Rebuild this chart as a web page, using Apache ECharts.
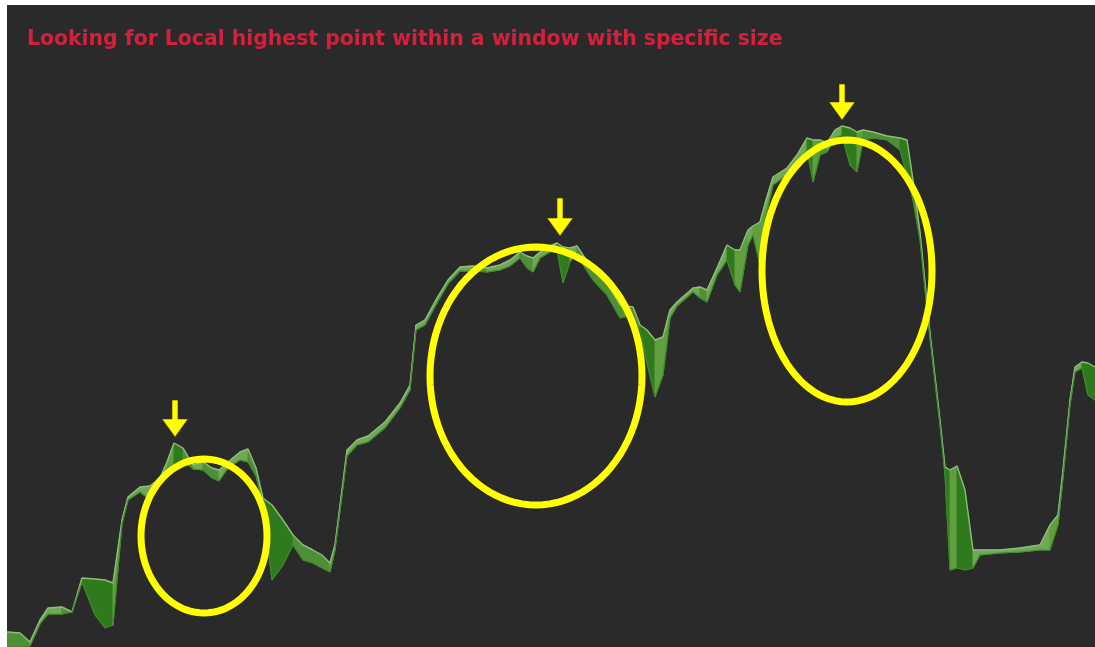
<!DOCTYPE html>
<html>
<head>
<meta charset="utf-8">
<script src="https://cdn.jsdelivr.net/npm/echarts@6/dist/echarts.min.js"></script>
<style>
html,body{margin:0;padding:0;background:#ffffff;}
#chart{width:1095px;height:647px;}
</style>
</head>
<body>
<div id="chart"></div>
<script>
// time steps (x) and the two edges of the price ribbon (y)
var steps = [0,13,23,33,41,55,65,75,88,98,106,115,121,133,143,153,160,167,176,186,196,205,212,221,233,241,249,256,265,276,286,296,306,315,323,328,340,350,361,378,393,403,409,418,430,441,453,466,480,493,503,513,520,526,533,543,550,556,563,570,578,586,600,613,626,633,640,648,656,663,670,686,693,700,710,720,728,733,741,746,753,759,766,780,790,800,806,813,820,828,835,843,850,856,866,880,893,900,906,913,923,933,938,943,950,958,966,973,993,1013,1033,1043,1051,1056,1063,1068,1075,1081,1088];
var edgeA = [15,14,5,27,39,40,35,69,68,67,64,127,150,160,161,169,185,204,199,182,185,179,177,185,195,198,179,149,142,127,112,102,97,92,84,102,197,207,211,225,244,262,322,327,349,367,380,381,379,382,387,395,391,389,395,401,404,400,399,401,389,377,364,342,340,322,317,307,310,337,345,359,360,357,379,402,397,397,417,421,425,447,470,479,492,509,507,507,504,517,521,519,515,517,515,511,509,507,467,415,314,227,180,177,181,157,97,97,97,99,102,122,132,177,247,280,285,284,280];
var edgeB = [0,0,1,23,33,33,35,65,32,19,22,123,147,155,147,165,177,177,187,178,177,169,166,179,187,185,171,142,67,82,102,87,84,79,75,97,191,202,205,219,239,257,317,322,344,363,376,376,375,377,381,389,379,375,389,395,397,364,385,395,379,367,352,329,332,317,284,250,272,329,341,355,349,345,372,387,362,355,402,412,382,432,462,472,482,497,465,492,495,509,512,482,475,507,509,507,497,472,447,407,309,222,172,77,79,77,79,92,94,95,97,97,122,169,242,275,279,252,247];

// annotations: windows (ellipses) and local-high markers (arrows)
var windowCenterX = [197, 529, 840];
var windowCenterY = [111, 271, 376];
var windowRadiusX = [63, 106, 85];
var windowRadiusY = [77, 129, 131];
var peakX = [168, 553, 835];
var peakTipY = [210, 411, 527];
var arrowLen = [37, 38, 36];

var titleText = 'Looking for Local highest point within a window with specific size';

var ribbonData = steps.map(function (x, i) { return [x, edgeA[i], edgeB[i]]; });
var windowData = windowCenterX.map(function (x, i) { return [x, windowCenterY[i], windowRadiusX[i], windowRadiusY[i]]; });
var arrowData = peakX.map(function (x, i) { return [x, peakTipY[i], arrowLen[i]]; });

var chart = echarts.init(document.getElementById('chart'), null, {renderer: 'canvas'});

function renderRibbon(params, api) {
  var i = params.dataIndex;
  if (i >= steps.length - 1) return null;
  var p1 = api.coord([steps[i], edgeA[i]]);
  var p2 = api.coord([steps[i + 1], edgeA[i + 1]]);
  var p3 = api.coord([steps[i + 1], edgeB[i + 1]]);
  var p4 = api.coord([steps[i], edgeB[i]]);
  var rising = edgeA[i + 1] >= edgeA[i];
  var wide = (edgeA[i] - edgeB[i]) + (edgeA[i + 1] - edgeB[i + 1]) > 30;
  var fill = rising ? (wide ? '#5f9f3f' : '#6fa857') : (wide ? '#2f7a1c' : '#4e8f37');
  return {
    type: 'polygon',
    shape: {points: [p1, p2, p3, p4]},
    style: {fill: fill, stroke: fill, lineWidth: 1}
  };
}

function renderWindow(params, api) {
  var c = api.coord([api.value(0), api.value(1)]);
  var s = api.size([api.value(2), api.value(3)]);
  var pts = [];
  for (var k = 0; k < 96; k++) {
    var t = k / 96 * Math.PI * 2;
    pts.push([c[0] + s[0] * Math.cos(t), c[1] + s[1] * Math.sin(t)]);
  }
  return {
    type: 'polygon',
    shape: {points: pts},
    style: {fill: 'none', stroke: '#ffff00', lineWidth: 7}
  };
}

function renderArrow(params, api) {
  var tip = api.coord([api.value(0), api.value(1)]);
  var top = api.coord([api.value(0), api.value(1) + api.value(2)]);
  var headH = 18, headW = 13, shaft = 3;
  var x = tip[0], yT = tip[1], y0 = top[1], yH = yT - headH;
  return {
    type: 'polygon',
    shape: {points: [
      [x - shaft, y0], [x + shaft, y0], [x + shaft, yH], [x + headW, yH],
      [x, yT], [x - headW, yH], [x - shaft, yH]
    ]},
    style: {fill: '#ffff00', stroke: '#3a3a10', lineWidth: 0.6}
  };
}

chart.setOption({
  backgroundColor: '#ffffff',
  animation: false,
  title: {
    text: titleText,
    left: 22, top: 25,
    textStyle: {color: '#d4203a', fontSize: 20.4, fontWeight: 'bold', fontFamily: 'DejaVu Sans, Verdana, sans-serif'}
  },
  grid: {left: 7, right: 0, top: 5, bottom: 0, show: true, backgroundColor: '#2a2a2a', borderWidth: 0},
  xAxis: {type: 'value', min: 0, max: 1088, show: false},
  yAxis: {type: 'value', min: 0, max: 642, show: false},
  series: [
    {
      type: 'custom', name: 'ribbon', renderItem: renderRibbon, data: ribbonData,
      encode: {x: 0, y: [1, 2]}, clip: true, z: 2
    },
    {
      type: 'line', name: 'edgeA', data: steps.map(function (x, i) { return [x, edgeA[i]]; }),
      symbol: 'none', lineStyle: {color: '#8fbc7b', width: 1.4}, z: 3
    },
    {
      type: 'line', name: 'edgeB', data: steps.map(function (x, i) { return [x, edgeB[i]]; }),
      symbol: 'none', lineStyle: {color: '#3f8a2a', width: 1.2}, z: 3
    },
    {
      type: 'custom', name: 'windows', renderItem: renderWindow, data: windowData,
      encode: {x: 0, y: 1}, z: 5
    },
    {
      type: 'custom', name: 'peaks', renderItem: renderArrow, data: arrowData,
      encode: {x: 0, y: 1}, z: 6
    }
  ]
});
</script>
</body>
</html>
